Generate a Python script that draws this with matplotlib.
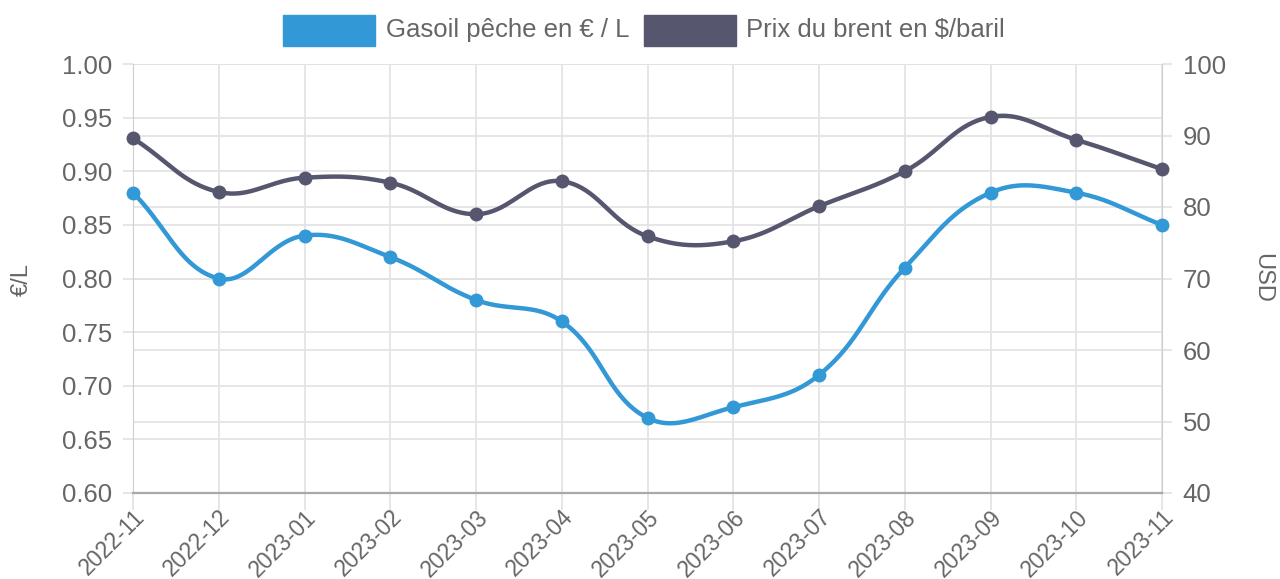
import numpy as np
import matplotlib.pyplot as plt
from matplotlib.patches import Rectangle

plt.rcParams['font.family'] = ['Liberation Sans', 'DejaVu Sans']

months = ['2022-11', '2022-12', '2023-01', '2023-02', '2023-03', '2023-04', '2023-05',
          '2023-06', '2023-07', '2023-08', '2023-09', '2023-10', '2023-11']
gasoil = [0.88, 0.80, 0.84, 0.82, 0.78, 0.76, 0.67, 0.68, 0.71, 0.81, 0.88, 0.88, 0.85]
brent = [89.6, 82.1, 84.1, 83.4, 79.0, 83.6, 75.9, 75.2, 80.1, 85.0, 92.6, 89.4, 85.3]

gasoil_label = 'Gasoil pêche en € / L'
brent_label = 'Prix du brent en $/baril'

blue = '#3398d6'
dark = '#56566f'
grid_col = '#e2e2e2'
text_col = '#666666'


def spline_pixels(pts, tension=0.4, steps=40):
    # same control points as chart.js (tension 0.4), computed in pixel space
    n = len(pts)
    cp_prev = np.zeros_like(pts)
    cp_next = np.zeros_like(pts)
    for i in range(n):
        prev = pts[max(i - 1, 0)]
        cur = pts[i]
        nxt = pts[min(i + 1, n - 1)]
        d01 = np.hypot(*(cur - prev))
        d12 = np.hypot(*(nxt - cur))
        tot = d01 + d12
        s01 = d01 / tot if tot else 0
        s12 = d12 / tot if tot else 0
        cp_prev[i] = cur - tension * s01 * (nxt - prev)
        cp_next[i] = cur + tension * s12 * (nxt - prev)
    t = np.linspace(0, 1, steps)[:, None]
    out = []
    for i in range(n - 1):
        p0, p1, p2, p3 = pts[i], cp_next[i], cp_prev[i + 1], pts[i + 1]
        seg = (1 - t) ** 3 * p0 + 3 * (1 - t) ** 2 * t * p1 + 3 * (1 - t) * t ** 2 * p2 + t ** 3 * p3
        out.append(seg if i == 0 else seg[1:])
    return np.vstack(out)


fig = plt.figure(figsize=(12.8, 5.79), dpi=100)
x0, x1 = 133 / 1280, 1162 / 1280
y0, y1 = 1 - 493 / 579, 1 - 64 / 579
ax2 = fig.add_axes([x0, y0, x1 - x0, y1 - y0])
ax = ax2.twinx()
# left scale drawn on top, right scale only gives ticks/grid underneath
ax.xaxis.set_visible(True)
ax.yaxis.tick_left()
ax.yaxis.set_label_position('left')
ax2.yaxis.tick_right()
ax2.yaxis.set_label_position('right')
ax.set_zorder(ax2.get_zorder() + 1)
ax.patch.set_visible(False)

x = np.arange(len(months))
ax.set_xlim(0, len(months) - 1)
ax.set_ylim(0.60, 1.00)
ax2.set_ylim(40, 100)
ax.set_yticks(np.arange(0.60, 1.001, 0.05))
ax.set_yticklabels(['%.2f' % v for v in np.arange(0.60, 1.001, 0.05)])
ax2.set_yticks(np.arange(40, 101, 10))
ax.set_xticks(x)
ax.set_xticklabels(months, rotation=45, ha='right', rotation_mode='anchor')
ax2.tick_params(axis='x', labelbottom=False, bottom=False)

ax2.grid(True, color=grid_col, linewidth=1.2)
ax.grid(True, axis='y', color=grid_col, linewidth=1.2)

for a in (ax, ax2):
    for s in a.spines.values():
        s.set_visible(False)
ax.spines['left'].set_visible(True)
ax.spines['left'].set_color('#cfcfcf')
ax.spines['bottom'].set_visible(True)
ax.spines['bottom'].set_color('#a8a8a8')
ax.spines['bottom'].set_linewidth(1.6)
ax2.spines['right'].set_visible(True)
ax2.spines['right'].set_color('#cfcfcf')

ax.tick_params(axis='y', colors=text_col, labelsize=18.5, length=7, color=grid_col, width=1.2, pad=8)
ax.tick_params(axis='x', colors=text_col, labelsize=16.5, length=12, color=grid_col, width=1.2, pad=-3)
ax2.tick_params(axis='y', colors=text_col, labelsize=18.5, length=7, color=grid_col, width=1.2, pad=8)

# brent goes through the right scale, then into left-axis data coords
brent_px = ax2.transData.transform(np.column_stack([x, brent]))
gasoil_px = ax.transData.transform(np.column_stack([x, gasoil]))
inv = ax.transData.inverted()

brent_curve = inv.transform(spline_pixels(brent_px))
gasoil_curve = inv.transform(spline_pixels(gasoil_px))
brent_pts = inv.transform(brent_px)

ax.plot(brent_curve[:, 0], brent_curve[:, 1], color=dark, lw=3.2, solid_capstyle='round', zorder=3)
ax.plot(brent_pts[:, 0], brent_pts[:, 1], 'o', color=dark, ms=9, zorder=4)
ax.plot(gasoil_curve[:, 0], gasoil_curve[:, 1], color=blue, lw=3.2, solid_capstyle='round', zorder=5)
ax.plot(x, gasoil, 'o', color=blue, ms=9, zorder=6)
for line in ax.lines:
    line.set_clip_on(False)

fig.text(22 / 1280, 1 - 280 / 579, '€/L', rotation=90, ha='center', va='center',
         fontsize=17, color=text_col)
fig.text(1262 / 1280, 1 - 278 / 579, 'USD', rotation=-90, ha='center', va='center',
         fontsize=17, color=text_col)

# legend boxes like chart.js
for bx, col, lab, tx in [(283, blue, gasoil_label, 386), (644, dark, brent_label, 746)]:
    fig.patches.append(Rectangle((bx / 1280, 1 - 46 / 579), 92 / 1280, 31 / 579,
                                 transform=fig.transFigure, facecolor=col,
                                 edgecolor=col, lw=1))
    fig.text(tx / 1280, 1 - 30 / 579, lab, ha='left', va='center', fontsize=18.5, color=text_col)

fig.savefig('out.png', dpi=100)
